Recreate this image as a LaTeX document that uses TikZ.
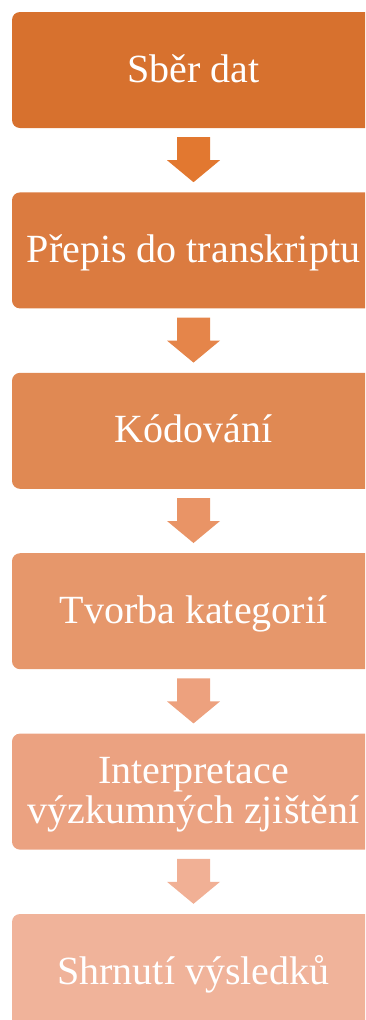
\documentclass[tikz,border=0pt]{standalone}
\usepackage{fontspec}
\setmainfont{Liberation Serif}
\usetikzlibrary{positioning, calc}

\definecolor{krokA}{HTML}{D7712E}
\definecolor{krokB}{HTML}{DB7B40}
\definecolor{krokC}{HTML}{E08953}
\definecolor{krokD}{HTML}{E6976B}
\definecolor{krokE}{HTML}{EBA281}
\definecolor{krokF}{HTML}{F0B39A}
\definecolor{sipkaA}{HTML}{E27830}
\definecolor{sipkaB}{HTML}{E5854A}
\definecolor{sipkaC}{HTML}{E99466}
\definecolor{sipkaD}{HTML}{EDA17E}
\definecolor{sipkaE}{HTML}{F1B095}

\begin{document}
\begin{tikzpicture}[x=1pt, y=-1pt,
    krok/.style={rectangle, rounded corners=8pt, minimum width=363pt, minimum height=116pt,
      inner sep=0pt, text=white, align=center, text height=30pt, text depth=6pt,
      font=\fontsize{40}{40}\selectfont}]
			\useasboundingbox (0,0) rectangle (365,1020);
			\clip (0,0) rectangle (365,1020);
			
			% Kroky analyzy
			\node[krok, fill=krokA] (k1) at (193.5,70) {Sběr dat};
			\node[krok, fill=krokB, below=64pt of k1] (k2) {Přepis do transkriptu};
			\node[krok, fill=krokC, below=64pt of k2] (k3) {Kódování};
			\node[krok, fill=krokD, below=64pt of k3] (k4) {Tvorba kategorií};
			\node[krok, fill=krokE, text height=70pt, below=64pt of k4] (k5) {Interpretace\\výzkumných zjištění};
			\node[krok, fill=krokF, below=64pt of k5] (k6) {Shrnutí výsledků};
			
			% Pfeile nach unten
			\foreach \von/\nach/\barva in {k1/k2/sipkaA, k2/k3/sipkaB, k3/k4/sipkaC, k4/k5/sipkaD, k5/k6/sipkaE}
				\fill[\barva] ($(\von.south)+(-16.5,9)$) -- ($(\von.south)+(16.5,9)$)
					-- ($(\von.south)+(16.5,32)$) -- ($(\von.south)+(26.5,32)$)
					-- ($(\nach.north)+(0,-10)$) -- ($(\von.south)+(-26.5,32)$)
					-- ($(\von.south)+(-16.5,32)$) -- cycle;
		\end{tikzpicture}
\end{document}
